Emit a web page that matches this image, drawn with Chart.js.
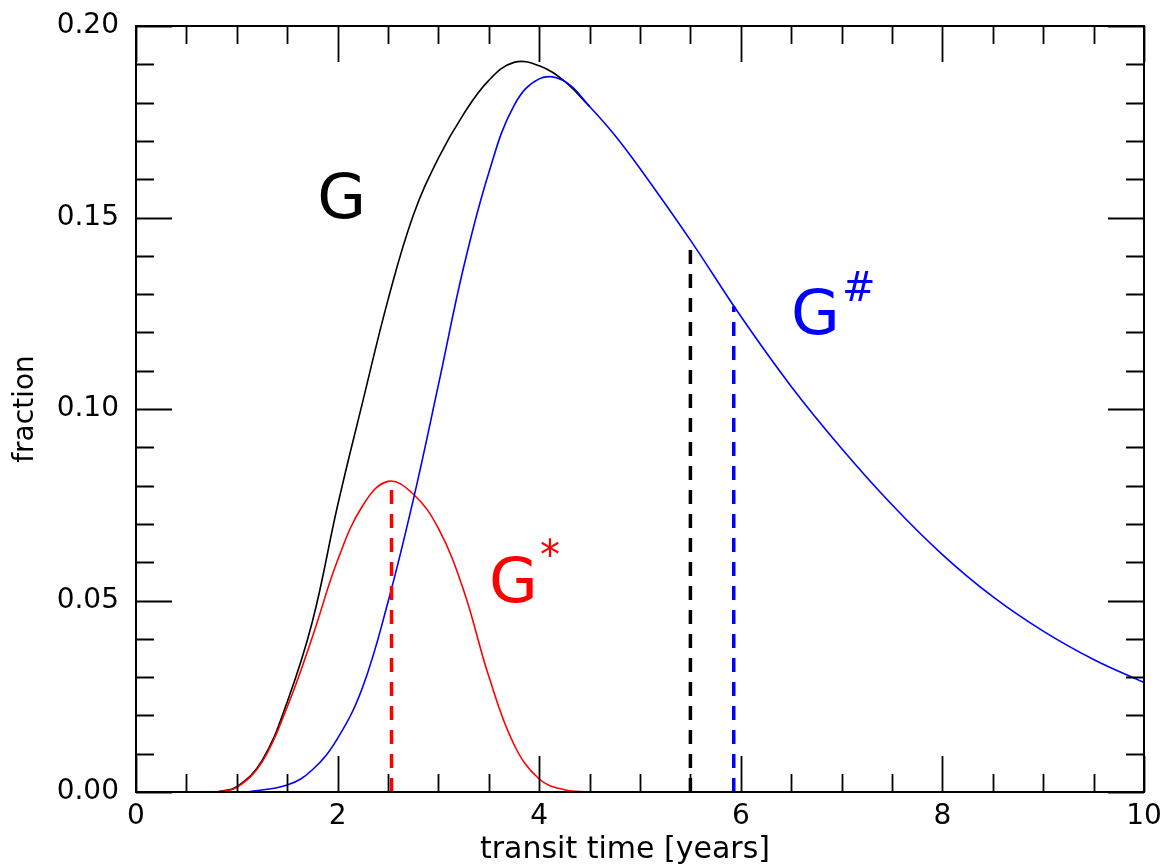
<!DOCTYPE html>
<html>
<head>
<meta charset="utf-8">
<script src="https://cdn.jsdelivr.net/npm/chart.js@4.4.1/dist/chart.umd.min.js"></script>
<style>
  html, body { margin: 0; padding: 0; background: #fff; }
  #wrap { width: 1164px; height: 864px; }
</style>
</head>
<body>
<div id="wrap"><canvas id="transitChart"></canvas></div>
<script>
// transit time distributions (years, fraction)
const tG = [0.8, 1.0, 1.25, 1.5, 1.75, 2.0, 2.25, 2.5, 2.75, 3.0, 3.25, 3.5, 3.75, 4.0, 4.25, 4.5];
const gTotal = [0, 0.0014, 0.0082, 0.0235, 0.0445, 0.0748, 0.102, 0.1285, 0.1505, 0.1655, 0.177, 0.1858, 0.1905, 0.1896, 0.1856, 0.179];

const tStar = [0.8, 1.0, 1.25, 1.5, 1.75, 2.0, 2.25, 2.5, 2.75, 3.0, 3.25, 3.5, 3.75, 4.0, 4.25, 4.5];
const gStar = [0, 0.0012, 0.0078, 0.0222, 0.0405, 0.0605, 0.0748, 0.0811, 0.0778, 0.0688, 0.0527, 0.0302, 0.0124, 0.0034, 0.0006, 0];

const tSharp = [1.1, 1.5, 1.75, 2.0, 2.25, 2.5, 2.75, 3.0, 3.25, 3.5, 3.75, 4.0, 4.25, 4.5, 4.75, 5.0, 5.5, 6.0, 6.5, 7.0, 7.5, 8.0, 8.5, 9.0, 9.5, 10.0];
const gSharp = [0, 0.0018, 0.0058, 0.014, 0.0275, 0.0496, 0.0762, 0.1063, 0.137, 0.1617, 0.1792, 0.1862, 0.1856, 0.179, 0.1715, 0.1628, 0.1441, 0.1242, 0.1059, 0.0897, 0.075, 0.062, 0.051, 0.042, 0.0346, 0.0286];

// mean transit times (vertical dashed markers)
const markerT = [2.535, 5.5, 5.93];
const markerTop = [0.0795, 0.1441, 0.1268];
const markerColors = ['#ff0000', '#000000', '#0000ff'];

const xTicks = [0, 2, 4, 6, 8, 10];
const yTicks = [0, 0.05, 0.10, 0.15, 0.20];

const FONT = "'DejaVu Sans', sans-serif";

function toPoints(xs, ys) {
    return xs.map((x, i) => ({ x: x, y: ys[i] }));
}

const markerSets = markerT.map((t, i) => ({
    data: [{ x: t, y: 0 }, { x: t, y: markerTop[i] }],
    borderColor: markerColors[i],
    borderWidth: 3.5,
    borderDash: [14, 10],
    pointRadius: 0
}));

// box with inward ticks on all four sides
const framePlugin = {
    id: 'frame',
    afterDraw(chart) {
        const { ctx, chartArea: a, scales: { x, y } } = chart;
        ctx.save();
        ctx.strokeStyle = '#000';
        ctx.lineWidth = 1.8;
        ctx.beginPath();
        for (let i = 0; i <= 20; i++) {
            const px = Math.round(x.getPixelForValue(i * 0.5)) + 0.5;
            const len = i % 4 === 0 ? 36 : 18;
            ctx.moveTo(px, a.bottom); ctx.lineTo(px, a.bottom - len);
            ctx.moveTo(px, a.top); ctx.lineTo(px, a.top + len);
        }
        for (let j = 0; j <= 20; j++) {
            const py = Math.round(y.getPixelForValue(j * 0.01)) + 0.5;
            const len = j % 5 === 0 ? 36 : 18;
            ctx.moveTo(a.left, py); ctx.lineTo(a.left + len, py);
            ctx.moveTo(a.right, py); ctx.lineTo(a.right - len, py);
        }
        ctx.stroke();
        ctx.lineWidth = 2;
        ctx.strokeRect(a.left, a.top, a.right - a.left, a.bottom - a.top);
        ctx.restore();
    }
};

const curveLabels = [
    { text: 'G', sup: '', t: 2.04, v: 0.150, color: '#000000' },
    { text: 'G', sup: '*', t: 3.745, v: 0.0496, color: '#ff0000' },
    { text: 'G', sup: '#', t: 6.741, v: 0.1196, color: '#0000ff' }
];

const labelPlugin = {
    id: 'curveLabels',
    afterDraw(chart) {
        const { ctx, scales: { x, y } } = chart;
        ctx.save();
        ctx.textBaseline = 'alphabetic';
        curveLabels.forEach(l => {
            const px = x.getPixelForValue(l.t);
            const py = y.getPixelForValue(l.v);
            ctx.fillStyle = l.color;
            ctx.font = '63px ' + FONT;
            ctx.textAlign = 'center';
            ctx.fillText(l.text, px, py);
            if (l.sup) {
                const w = ctx.measureText(l.text).width;
                ctx.font = '40px ' + FONT;
                ctx.textAlign = 'left';
                ctx.fillText(l.sup, px + w / 2 + 2, py - 33);
            }
        });
        // x axis title sits a little left of centre in the original
        ctx.fillStyle = '#000';
        ctx.font = '30px ' + FONT;
        ctx.textAlign = 'center';
        ctx.textBaseline = 'middle';
        ctx.fillText('transit time [years]', 625, 850);
        ctx.restore();
    }
};

const curveStyle = {
    borderWidth: 1.6,
    pointRadius: 0,
    tension: 0.4,
    cubicInterpolationMode: 'default'
};

new Chart(document.getElementById('transitChart'), {
    type: 'line',
    data: {
        datasets: [
            ...markerSets,
            { label: 'G#', data: toPoints(tSharp, gSharp), borderColor: '#0000ff', ...curveStyle },
            { label: 'G*', data: toPoints(tStar, gStar), borderColor: '#ff0000', ...curveStyle },
            { label: 'G', data: toPoints(tG, gTotal), borderColor: '#000000', ...curveStyle }
        ]
    },
    options: {
        responsive: true,
        maintainAspectRatio: false,
        animation: false,
        layout: { padding: { top: 26, right: 20, bottom: 0, left: 0 } },
        plugins: {
            legend: { display: false },
            tooltip: { enabled: false }
        },
        scales: {
            x: {
                type: 'linear',
                min: 0,
                max: 10,
                afterFit: s => { s.height = 72; s.paddingLeft = 0; s.paddingRight = 0; },
                afterBuildTicks: s => { s.ticks = xTicks.map(v => ({ value: v })); },
                grid: { display: false, drawTicks: false },
                border: { display: false },
                ticks: {
                    color: '#000',
                    font: { family: FONT, size: 28 },
                    padding: 8,
                    maxRotation: 0,
                    autoSkip: false
                }
            },
            y: {
                type: 'linear',
                min: 0,
                max: 0.2,
                afterFit: s => { s.width = 136; s.paddingTop = 0; s.paddingBottom = 0; },
                afterBuildTicks: s => { s.ticks = yTicks.map(v => ({ value: v })); },
                grid: { display: false, drawTicks: false },
                border: { display: false },
                ticks: {
                    color: '#000',
                    font: { family: FONT, size: 28 },
                    padding: 17,
                    callback: v => v.toFixed(2)
                },
                title: {
                    display: true,
                    text: 'fraction',
                    color: '#000',
                    font: { family: FONT, size: 28, lineHeight: 1 },
                    padding: { top: 12, bottom: 0 }
                }
            }
        }
    },
    plugins: [framePlugin, labelPlugin]
});
</script>
</body>
</html>
